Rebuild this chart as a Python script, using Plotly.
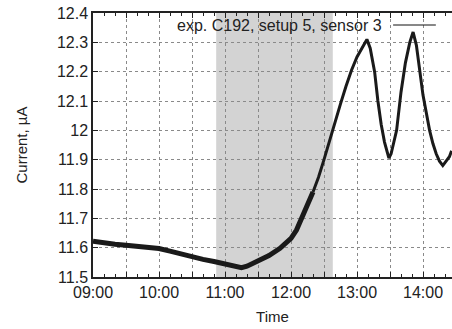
import plotly.graph_objects as go

DAY = "2000-01-01 "

# Data (time of day, current in µA)
times = ["09:00", "09:10", "09:20", "09:30", "09:40", "09:50", "10:00", "10:10",
         "10:20", "10:30", "10:40", "10:50", "11:00", "11:10", "11:15", "11:20",
         "11:30", "11:40", "11:50", "12:00", "12:05", "12:10", "12:15", "12:20",
         "12:25", "12:30", "12:35", "12:40", "12:45", "12:50", "12:55", "13:00",
         "13:05", "13:09", "13:12", "13:16", "13:19", "13:22", "13:25", "13:27",
         "13:29", "13:31", "13:33", "13:36", "13:40", "13:44", "13:48", "13:51",
         "13:54", "13:57", "14:00", "14:03", "14:06", "14:09", "14:12", "14:15",
         "14:18", "14:21", "14:24", "14:26"]
current = [11.622, 11.615, 11.612, 11.608, 11.604, 11.600, 11.597, 11.588,
           11.578, 11.568, 11.560, 11.553, 11.545, 11.535, 11.532, 11.537,
           11.553, 11.573, 11.598, 11.632, 11.660, 11.700, 11.745, 11.790,
           11.840, 11.900, 11.965, 12.025, 12.090, 12.150, 12.205, 12.250,
           12.285, 12.310, 12.280, 12.200, 12.100, 12.020, 11.960, 11.930,
           11.905, 11.920, 11.955, 12.000, 12.130, 12.230, 12.300, 12.335,
           12.290, 12.200, 12.120, 12.060, 12.000, 11.955, 11.920, 11.895,
           11.880, 11.895, 11.910, 11.930]

shade_span = ["10:52", "12:38"]
x_range = ["09:00:00", "14:26:22"]
y_range = [11.5, 12.4]

x_tickvals = ["09:00", "09:30", "10:00", "10:30", "11:00", "11:30", "12:00",
              "12:30", "13:00", "13:30", "14:00"]
x_ticktext = ["09:00", "", "10:00", "", "11:00", "", "12:00", "", "13:00", "", "14:00"]

series_name = "exp. C192, setup 5, sensor 3"

FONT = "Liberation Sans, Arial, sans-serif"
FS = 16
x = [DAY + t for t in times]
split = times.index("12:20")

fig = go.Figure()
fig.add_trace(go.Scatter(x=x[:split + 1], y=current[:split + 1], mode="lines",
                         line=dict(color="#1a1a1a", width=5), showlegend=False,
                         name=series_name))
fig.add_trace(go.Scatter(x=x[split:], y=current[split:], mode="lines",
                         line=dict(color="#1a1a1a", width=3), showlegend=False,
                         name=series_name))

fig.add_shape(type="rect", xref="x", yref="paper",
              x0=DAY + shade_span[0], x1=DAY + shade_span[1], y0=0, y1=1,
              fillcolor="#d3d3d3", line=dict(width=0), layer="below")

# legend-like key: text with a line sample on its right
fig.add_annotation(text=series_name, xref="paper", yref="paper",
                   x=0.811, y=0.9545, xanchor="right", yanchor="middle",
                   showarrow=False, font=dict(family=FONT, size=FS, color="#222"))
fig.add_shape(type="line", xref="paper", yref="paper",
              x0=0.836, x1=0.955, y0=0.9545, y1=0.9545,
              line=dict(color="#111", width=1))

fig.update_layout(
    width=452, height=329,
    margin=dict(l=93, r=0, t=13, b=52),
    paper_bgcolor="white", plot_bgcolor="white",
    font=dict(family=FONT, size=FS, color="#222"),
    showlegend=False,
)
fig.update_xaxes(
    type="date",
    range=[DAY + x_range[0], DAY + x_range[1]],
    tickmode="array", tickvals=[DAY + t for t in x_tickvals], ticktext=x_ticktext,
    ticks="inside", ticklen=5, tickcolor="#222",
    showline=True, linecolor="#222", linewidth=1.5, mirror="ticks",
    showgrid=True, gridcolor="#8a8a8a", griddash="dot", gridwidth=1,
    minor=dict(dtick=10 * 60 * 1000, ticks="inside", ticklen=3, tickcolor="#222",
               showgrid=False),
    title=dict(text="Time", standoff=12, font=dict(size=FS - 1)),
    zeroline=False,
)
fig.update_yaxes(
    range=y_range, dtick=0.1, tick0=11.5,
    ticks="inside", ticklen=5, tickcolor="#222",
    showline=True, linecolor="#222", linewidth=1.5, mirror=False,
    showgrid=True, gridcolor="#8a8a8a", griddash="dot", gridwidth=1,
    title=dict(text="Current, µA", standoff=26, font=dict(size=FS - 1)),
    zeroline=False,
)

fig.write_html("out.html")
